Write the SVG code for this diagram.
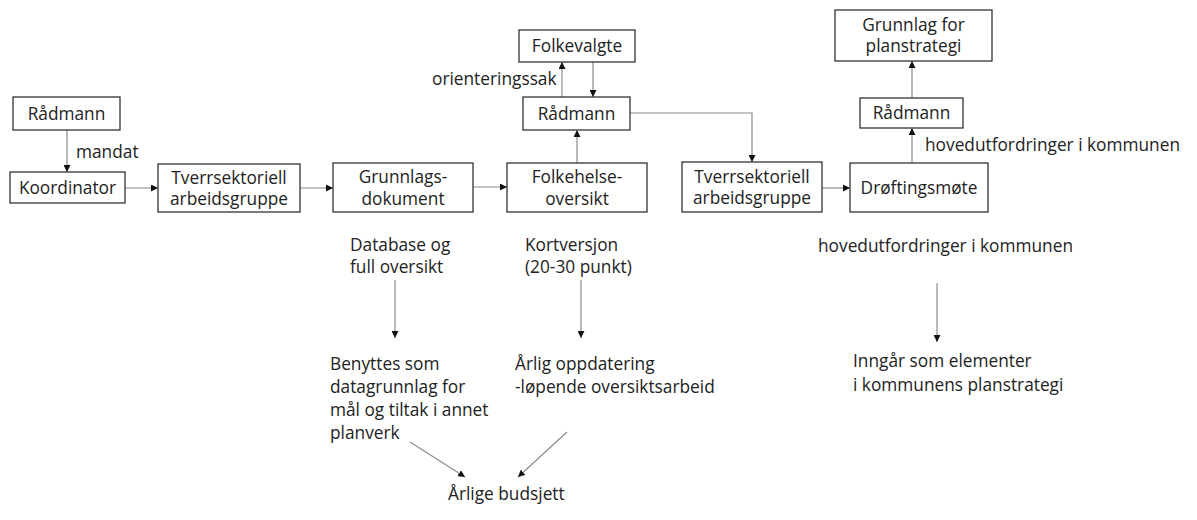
<svg xmlns="http://www.w3.org/2000/svg" width="1197" height="520" viewBox="0 0 1197 520">
<style>
.box{fill:#fff;stroke:#333;stroke-width:1.3}
.t{font-family:"Open Sans","Noto Sans",sans-serif;font-size:17.3px;fill:#222}
.c{text-anchor:middle}
.ln{fill:none;stroke:#8a8a8a;stroke-width:1.2;marker-end:url(#ah)}
</style>
<defs>
<marker id="ah" viewBox="0 0 10 10" refX="10" refY="5" markerWidth="7" markerHeight="7" markerUnits="userSpaceOnUse" orient="auto">
<path d="M0,0 L10,5 L0,10 z" fill="#111"/>
</marker>
</defs>
<rect width="1197" height="520" fill="#fff"/>
<g id="connectors">
<line class="ln" x1="67" y1="130" x2="67" y2="172"/>
<line class="ln" x1="125" y1="188" x2="158" y2="188"/>
<line class="ln" x1="300" y1="188" x2="333" y2="188"/>
<line class="ln" x1="473" y1="187" x2="507" y2="187"/>
<line class="ln" x1="577" y1="163" x2="577" y2="130"/>
<line class="ln" x1="562" y1="97" x2="562" y2="62"/>
<line class="ln" x1="593" y1="62" x2="593" y2="97"/>
<polyline class="ln" points="630,113 752,113 752,162"/>
<line class="ln" x1="822" y1="188" x2="850" y2="188"/>
<line class="ln" x1="912" y1="163" x2="912" y2="128"/>
<line class="ln" x1="912" y1="98" x2="912" y2="61"/>
<line class="ln" x1="395" y1="280" x2="395" y2="338"/>
<line class="ln" x1="581" y1="280" x2="581" y2="338"/>
<line class="ln" x1="937" y1="283" x2="937" y2="342"/>
<line class="ln" x1="410" y1="442" x2="465" y2="477"/>
<line class="ln" x1="567" y1="432" x2="518" y2="477"/>
</g>
<g id="labels">
<text class="t" x="76" y="158">mandat</text>
<text class="t" x="432" y="85">orienteringssak</text>
<text class="t" x="925" y="151">hovedutfordringer i kommunen</text>
</g>
<g id="n-radmann1"><rect class="box" x="13" y="97" width="107" height="33"/><text class="t c" x="66.5" y="120">Rådmann</text></g>
<g id="n-koordinator"><rect class="box" x="10" y="172" width="115" height="31"/><text class="t c" x="67.5" y="194">Koordinator</text></g>
<g id="n-tverr1"><rect class="box" x="158" y="164" width="142" height="48"/><text class="t c" x="229" y="184">Tverrsektoriell</text><text class="t c" x="229" y="205">arbeidsgruppe</text></g>
<g id="n-grunnlags"><rect class="box" x="333" y="163" width="140" height="49"/><text class="t c" x="403" y="183">Grunnlags-</text><text class="t c" x="403" y="205">dokument</text></g>
<g id="n-folkehelse"><rect class="box" x="507" y="163" width="140" height="49"/><text class="t c" x="577" y="183">Folkehelse-</text><text class="t c" x="577" y="205">oversikt</text></g>
<g id="n-radmann2"><rect class="box" x="523" y="97" width="107" height="33"/><text class="t c" x="576.5" y="120">Rådmann</text></g>
<g id="n-folkevalgte"><rect class="box" x="519" y="30" width="116" height="32"/><text class="t c" x="577" y="52">Folkevalgte</text></g>
<g id="n-tverr2"><rect class="box" x="682" y="162" width="140" height="50"/><text class="t c" x="752" y="183">Tverrsektoriell</text><text class="t c" x="752" y="204">arbeidsgruppe</text></g>
<g id="n-droftingsmote"><rect class="box" x="850" y="163" width="138" height="49"/><text class="t c" x="919" y="194">Drøftingsmøte</text></g>
<g id="n-radmann3"><rect class="box" x="860" y="98" width="103" height="30"/><text class="t c" x="911.5" y="119">Rådmann</text></g>
<g id="n-grunnlagplan"><rect class="box" x="835" y="10" width="157" height="51"/><text class="t c" x="913.5" y="31">Grunnlag for</text><text class="t c" x="913.5" y="52">planstrategi</text></g>
<g id="n-database"><text class="t" x="350" y="251">Database og</text><text class="t" x="350" y="273">full oversikt</text></g>
<g id="n-kortversjon"><text class="t" x="525" y="251">Kortversjon</text><text class="t" x="525" y="273">(20-30 punkt)</text></g>
<g id="n-hovedutf"><text class="t" x="818" y="252">hovedutfordringer i kommunen</text></g>
<g id="n-benyttes"><text class="t" x="330" y="370">Benyttes som</text><text class="t" x="330" y="393">datagrunnlag for</text><text class="t" x="330" y="416">mål og tiltak i annet</text><text class="t" x="330" y="439">planverk</text></g>
<g id="n-arlig"><text class="t" x="515" y="370">Årlig oppdatering</text><text class="t" x="515" y="393">-løpende oversiktsarbeid</text></g>
<g id="n-inngar"><text class="t" x="853" y="367">Inngår som elementer</text><text class="t" x="853" y="391">i kommunens planstrategi</text></g>
<g id="n-budsjett"><text class="t" x="448" y="500">Årlige budsjett</text></g>
</svg>
